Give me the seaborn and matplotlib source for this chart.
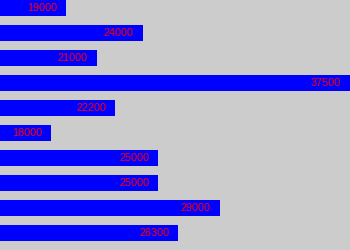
import matplotlib
matplotlib.use("Agg")
import matplotlib.pyplot as plt
import seaborn as sns
import pandas as pd

categories = ["r1", "r2", "r3", "r4", "r5", "r6", "r7", "r8", "r9", "r10"]
values = [19000, 24000, 21000, 37500, 22200, 18000, 25000, 25000, 29000, 26300]
labels = ["19000", "24000", "21000", "37500", "22200", "18000", "25000", "25000", "29000", "26300"]

df = pd.DataFrame({"cat": categories, "val": values})

fig = plt.figure(figsize=(3.5, 2.5), dpi=100)
fig.patch.set_facecolor("#cccccc")
ax = fig.add_axes([0, 0, 1, 1])
ax.set_facecolor("#cccccc")

sns.barplot(data=df, x="val", y="cat", orient="h", color="#0000ff",
            saturation=1, width=0.64, ax=ax, order=categories)

ax.set_xlim(14680, 37500)
ax.set_ylim(len(categories) - 0.32, -0.32)

for i, (v, lab) in enumerate(zip(values, labels)):
    ax.annotate(lab, xy=(v, i), xytext=(-9, 0), textcoords="offset pixels",
                ha="right", va="center", color="#ff0000",
                fontsize=7.8, family="Liberation Sans")

ax.set_axis_off()
fig.savefig("out.png", dpi=100, facecolor="#cccccc")
